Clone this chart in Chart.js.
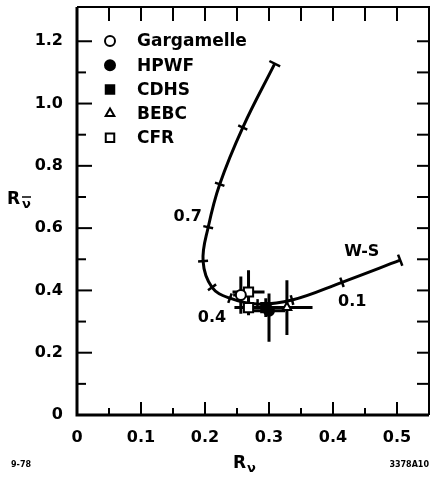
<!DOCTYPE html>
<html>
<head>
<meta charset="utf-8">
<script src="https://cdn.jsdelivr.net/npm/chart.js@4.4.1/dist/chart.umd.min.js"></script>
<style>
  html, body { margin:0; background:#fff; }
  #wrap { width:430px; height:478px; position:relative; }
</style>
</head>
<body>
<div id="wrap"><canvas id="c" aria-label="R nu-bar versus R nu, W-S curve with experiments" role="img"></canvas></div>
<script>
const FONT = "'DejaVu Sans', sans-serif";

// W-S prediction, one point per sin²θ step of 0.1 (0 at the right end, 1 at the top)
const wsRnu    = [0.505, 0.414, 0.336, 0.282, 0.239, 0.211, 0.197, 0.205, 0.223, 0.259, 0.309];
const wsRnubar = [0.497, 0.426, 0.369, 0.356, 0.375, 0.410, 0.494, 0.603, 0.741, 0.923, 1.128];
const wsNotes  = [["W-S",0.445,0.523],["0.1",0.43,0.362],["0.4",0.211,0.311],["0.7",0.173,0.635]];

// measurements
const experiments = ["Gargamelle", "HPWF", "CDHS", "BEBC", "CFR"];
const expRnu      = [[0.256], [0.300], [0.295], [0.328], [0.268, 0.268]];
const expRnubar   = [[0.385], [0.335], [0.345], [0.345], [0.395, 0.345]];
const expRnuErr   = [[0.012], [0.025], [0.020], [0.040], [0.025, 0.022]];
const expErrUp    = [[0.060], [0.055], [0.030], [0.088], [0.070, 0.025]];
const expErrDown  = [[0.060], [0.100], [0.030], [0.088], [0.040, 0.025]];
const expMarker   = [["circle",false], ["circle",true], ["rect",true], ["triangle",false], ["rect",false]];

// axes
const xTicks = [0, 0.1, 0.2, 0.3, 0.4, 0.5];
const xMinor = [0.05, 0.15, 0.25, 0.35, 0.45];
const yTicks = [0, 0.2, 0.4, 0.6, 0.8, 1.0, 1.2];
const yMinor = [0.1, 0.3, 0.5, 0.7, 0.9, 1.1];

const fmt = v => v === 0 ? "0" : v.toFixed(1);
const bold = size => `bold ${size}px ${FONT}`;

const figure = {
  id: "figure",
  beforeDatasetsDraw(chart) {
    const { ctx, scales:{x, y} } = chart;
    ctx.save();
    ctx.strokeStyle = "#000"; ctx.lineWidth = 3;
    experiments.forEach((name, s) => expRnu[s].forEach((rx, i) => {
      const ry = expRnubar[s][i];
      ctx.beginPath();
      ctx.moveTo(x.getPixelForValue(rx - expRnuErr[s][i]), y.getPixelForValue(ry));
      ctx.lineTo(x.getPixelForValue(rx + expRnuErr[s][i]), y.getPixelForValue(ry));
      ctx.moveTo(x.getPixelForValue(rx), y.getPixelForValue(ry + expErrUp[s][i]));
      ctx.lineTo(x.getPixelForValue(rx), y.getPixelForValue(ry - expErrDown[s][i]));
      ctx.stroke();
    }));
    ctx.restore();
  },
  afterDatasetsDraw(chart) {
    const { ctx, chartArea:a, scales:{x, y} } = chart;
    ctx.save();
    ctx.strokeStyle = "#000"; ctx.fillStyle = "#000";

    // ticks across the W-S curve
    const pts = wsRnu.map((v, i) => [x.getPixelForValue(v), y.getPixelForValue(wsRnubar[i])]);
    ctx.lineWidth = 2.5;
    pts.forEach((p, i) => {
      const a0 = pts[Math.max(i - 1, 0)], a1 = pts[Math.min(i + 1, pts.length - 1)];
      let dx = a1[0] - a0[0], dy = a1[1] - a0[1];
      const len = Math.hypot(dx, dy); dx /= len; dy /= len;
      const half = (i === 0 || i === pts.length - 1) ? 6 : 5;
      ctx.beginPath();
      ctx.moveTo(p[0] - dy * half, p[1] + dx * half);
      ctx.lineTo(p[0] + dy * half, p[1] - dx * half);
      ctx.stroke();
    });

    // frame and inward ticks
    ctx.lineWidth = 3;
    ctx.beginPath();
    ctx.moveTo(a.left, a.top); ctx.lineTo(a.left, a.bottom); ctx.lineTo(a.right, a.bottom);
    ctx.stroke();
    ctx.lineWidth = 2;
    ctx.beginPath();
    ctx.moveTo(a.left, a.top); ctx.lineTo(a.right, a.top); ctx.lineTo(a.right, a.bottom);
    ctx.stroke();

    const tick = (x0, y0, x1, y1) => { ctx.beginPath(); ctx.moveTo(x0, y0); ctx.lineTo(x1, y1); ctx.stroke(); };
    ctx.lineWidth = 2;
    xTicks.slice(1).forEach(v => { const px = x.getPixelForValue(v); tick(px, a.bottom, px, a.bottom - 13); });
    xMinor.forEach(v => { const px = x.getPixelForValue(v); tick(px, a.bottom, px, a.bottom - 7); });
    xTicks.slice(1).concat(xMinor).forEach(v => { const px = x.getPixelForValue(v); tick(px, a.top, px, a.top + 14); });
    yTicks.slice(1).forEach(v => { const py = y.getPixelForValue(v); tick(a.left, py, a.left + 15, py); });
    yMinor.forEach(v => { const py = y.getPixelForValue(v); tick(a.left, py, a.left + 9, py); });
    yTicks.slice(1).concat(yMinor).forEach(v => { const py = y.getPixelForValue(v); tick(a.right, py, a.right - 12, py); });

    // curve notes
    ctx.font = bold(16); ctx.textAlign = "center"; ctx.textBaseline = "middle";
    wsNotes.forEach(([t, vx, vy]) => ctx.fillText(t, x.getPixelForValue(vx), y.getPixelForValue(vy)));

    // legend in the upper left corner
    ctx.textAlign = "left"; ctx.font = bold(17);
    experiments.forEach((name, s) => {
      const ly = a.top + 34 + s * 24.2, lx = a.left + 33;
      const [style, filled] = expMarker[s];
      ctx.fillStyle = filled ? "#000" : "#fff";
      Chart.helpers.drawPoint(ctx, { pointStyle:style, radius: style === "rect" ? 6 : 5, borderWidth:2, rotation:0 }, lx, ly);
      ctx.fillStyle = "#000";
      ctx.fillText(name, a.left + 60, ly + 1);
    });

    // axis titles
    ctx.font = bold(17); ctx.textAlign = "left"; ctx.textBaseline = "alphabetic";
    ctx.fillText("R", 233, 468);
    ctx.font = bold(13); ctx.fillText("ν", 247, 472);
    ctx.font = bold(17); ctx.fillText("R", 7, 204);
    ctx.font = bold(13); ctx.fillText("ν", 22, 208);
    ctx.lineWidth = 1.5; tick(22, 197, 31, 197);

    // plate marks
    ctx.font = bold(8);
    ctx.fillText("9-78", 11, 467);
    ctx.textAlign = "right"; ctx.fillText("3378A10", 429, 467);
    ctx.restore();
  }
};

const expSets = experiments.map((name, s) => ({
  label: name,
  data: expRnu[s].map((v, i) => ({ x:v, y:expRnubar[s][i] })),
  pointStyle: expMarker[s][0],
  pointRadius: expMarker[s][0] === "rect" ? 6.5 : 5,
  pointBorderWidth: 2,
  pointBorderColor: "#000",
  pointBackgroundColor: expMarker[s][1] ? "#000" : "#fff",
  order: 0,
}));

new Chart(document.getElementById("c"), {
  type: "scatter",
  data: {
    datasets: [{
      label: "W-S",
      type: "line",
      data: wsRnu.map((v, i) => ({ x:v, y:wsRnubar[i] })),
      borderColor: "#000", borderWidth: 3, pointRadius: 0,
      tension: 0.4, fill: false, showLine: true, order: 5,
    }, ...expSets],
  },
  options: {
    responsive: true, maintainAspectRatio: false, animation: false,
    layout: { autoPadding: false, padding: { top:7, right:1, left:0, bottom:0 } },
    plugins: { legend: { display:false }, tooltip: { enabled:false } },
    scales: {
      x: {
        type: "linear", min: 0, max: 0.55,
        afterFit: s => { s.height = 63; s.paddingLeft = 0; s.paddingRight = 0; },
        afterBuildTicks: s => { s.ticks = xTicks.map(v => ({ value:v })); },
        ticks: { padding:13, color:"#000", font:{ family:FONT, size:16, weight:"bold" }, callback: v => fmt(v), maxRotation:0 },
        grid: { display:false, drawTicks:false }, border: { display:false },
      },
      y: {
        type: "linear", min: 0, max: 1.31,
        afterFit: s => { s.width = 77; s.paddingTop = 0; s.paddingBottom = 0; },
        afterBuildTicks: s => { s.ticks = yTicks.map(v => ({ value:v })); },
        ticks: { padding:14, color:"#000", font:{ family:FONT, size:16, weight:"bold" }, callback: v => fmt(v) },
        grid: { display:false, drawTicks:false }, border: { display:false },
      },
    },
  },
  plugins: [figure],
});
</script>
</body>
</html>
